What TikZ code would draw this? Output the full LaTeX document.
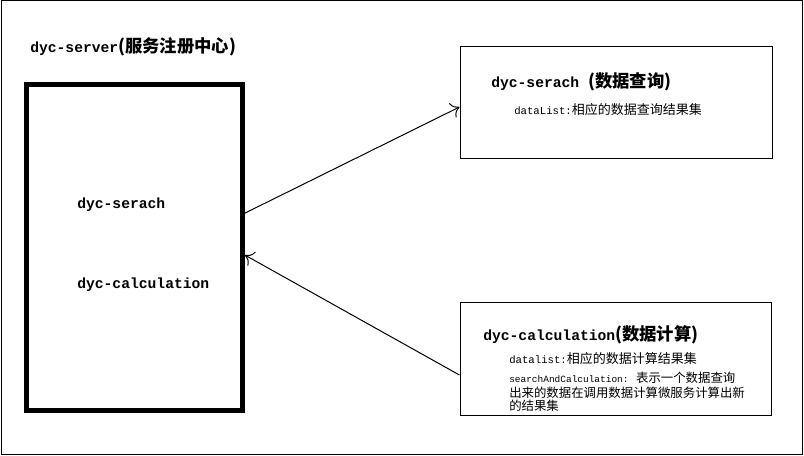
\documentclass[tikz,border=0pt]{standalone}
\usepackage{fontspec}
\setmainfont{Liberation Mono}
\newfontfamily\cjk{Noto Sans CJK SC}
\usetikzlibrary{arrows.meta, calc, positioning}

\newcommand{\zh}[2][13]{{\cjk\fontsize{#1}{14}\selectfont #2}}

\begin{document}
\begin{tikzpicture}[x=0.75pt, y=-0.75pt,
    every node/.style={inner sep=0pt, anchor=base west},
    title/.style={font=\fontsize{11}{13}\selectfont\bfseries},
    small/.style={font=\fontsize{8}{10}\selectfont},
    box/.style={draw, line width=0.75pt, anchor=center},
    flow/.style={line width=0.75pt, -{Computer Modern Rightarrow[length=6pt, width=12pt]}}]

        \useasboundingbox (0,0) rectangle (804,455);
        \draw[line width=0.75pt] (1,0.5) rectangle (802,454);

        % boxes
        \node[box, line width=3.75pt, minimum width=162pt, minimum height=244.5pt] (server) at (134.5,247.5) {};
        \node[box, minimum width=234pt, minimum height=84pt] (query) at (616,102) {};
        \node[box, minimum width=233.25pt, minimum height=84.75pt] (calc) at (615.5,358.5) {};

        % registry
        \node[title] (servertitle) at (30,52) {dyc-server\zh{(服务注册中心)}};
        \node[title] (srvquery) at (77,208) {dyc-serach};
        \node[title] (srvcalc) at (77,288) {dyc-calculation};

        % query service
        \node[title] (querytitle) at (491,87) {dyc-serach \zh{(数据查询)}};
        \node[small] (querydata) at (514,114) {dataList:\zh[9.75]{相应的数据查询结果集}};

        % calculation service
        \node[title] (calctitle) at (483,340) {dyc-calculation\zh{(数据计算)}};
        \node[small] (calcdata) at (509,363) {datalist:\zh[9.75]{相应的数据计算结果集}};
        \node[small, font=\fontsize{7.1}{9}\selectfont] (calcdesc1) at (509,382) {searchAndCalculation: \zh[9.3]{表示一个数据查询}};
        \node[small] (calcdesc2) at (509,397) {\zh[9.3]{出来的数据在调用数据计算微服务计算出新}};
        \node[small] (calcdesc3) at (509,410) {\zh[9.3]{的结果集}};

        \draw[flow] ($(server.north east)!0.396!(server.south east)$) -- ([yshift=-3.75pt]query.west);
        \draw[flow] ([yshift=-12.4pt]calc.west) -- ($(server.north east)!0.523!(server.south east)$);

\end{tikzpicture}
\end{document}
